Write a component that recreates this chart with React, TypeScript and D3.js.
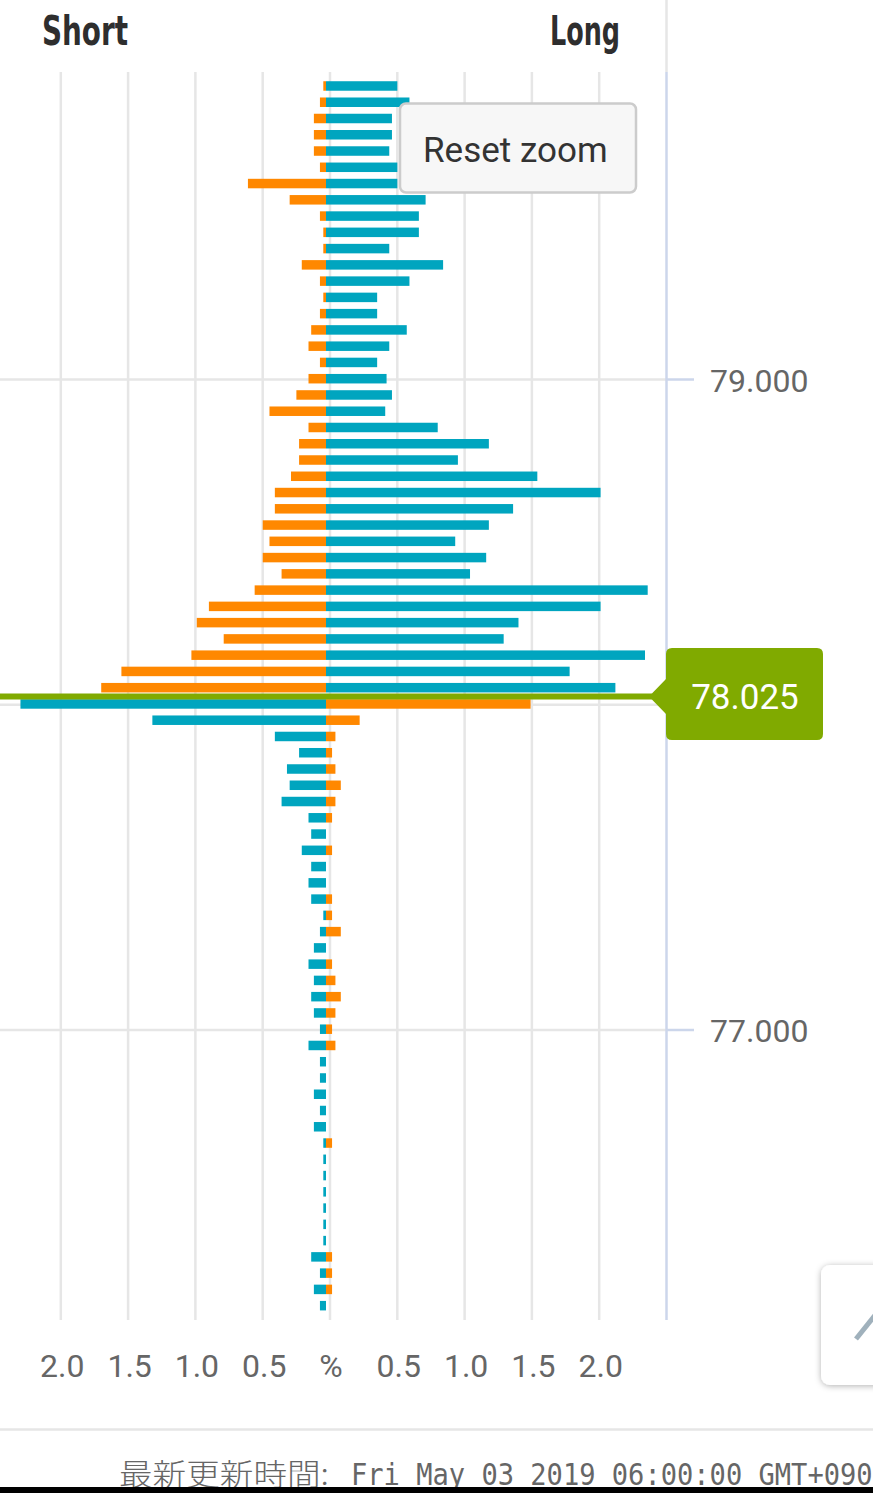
import React, { useEffect, useRef } from 'react';
import * as d3 from 'd3';

// price rows (yen), top to bottom
const prices = [
  79.90, 79.85, 79.80, 79.75, 79.70, 79.65, 79.60, 79.55, 79.50, 79.45,
  79.40, 79.35, 79.30, 79.25, 79.20, 79.15, 79.10, 79.05, 79.00, 78.95,
  78.90, 78.85, 78.80, 78.75, 78.70, 78.65, 78.60, 78.55, 78.50, 78.45,
  78.40, 78.35, 78.30, 78.25, 78.20, 78.15, 78.10, 78.05, 78.00, 77.95,
  77.90, 77.85, 77.80, 77.75, 77.70, 77.65, 77.60, 77.55, 77.50, 77.45,
  77.40, 77.35, 77.30, 77.25, 77.20, 77.15, 77.10, 77.05, 77.00, 76.95,
  76.90, 76.85, 76.80, 76.75, 76.70, 76.65, 76.60, 76.55, 76.50, 76.45,
  76.40, 76.35, 76.30, 76.25, 76.20, 76.15,
];

// % drawn on the left ("Short") side
const leftValues = [
  0.02, 0.045, 0.09, 0.09, 0.09, 0.045, 0.58, 0.27, 0.045, 0.02,
  0.02, 0.18, 0.045, 0.02, 0.045, 0.11, 0.13, 0.045, 0.13, 0.22,
  0.42, 0.13, 0.20, 0.20, 0.26, 0.38, 0.38, 0.47, 0.42, 0.47,
  0.33, 0.53, 0.87, 0.96, 0.76, 1.00, 1.52, 1.67, 2.27, 1.29,
  0.38, 0.20, 0.29, 0.27, 0.33, 0.13, 0.11, 0.18, 0.11, 0.13,
  0.11, 0.02, 0.045, 0.09, 0.13, 0.09, 0.11, 0.09, 0.045, 0.13,
  0.045, 0.045, 0.09, 0.045, 0.09, 0.02, 0.02, 0.02, 0.02, 0.02,
  0.02, 0.02, 0.11, 0.045, 0.09, 0.045,
];

// % drawn on the right ("Long") side
const rightValues = [
  0.53, 0.62, 0.49, 0.49, 0.47, 0.53, 0.53, 0.74, 0.69, 0.69,
  0.47, 0.87, 0.62, 0.38, 0.38, 0.60, 0.47, 0.38, 0.45, 0.49,
  0.44, 0.83, 1.21, 0.98, 1.57, 2.04, 1.39, 1.21, 0.96, 1.19,
  1.07, 2.39, 2.04, 1.43, 1.32, 2.37, 1.81, 2.15, 1.52, 0.25,
  0.07, 0.045, 0.07, 0.11, 0.07, 0.045, 0, 0.045, 0, 0,
  0.045, 0.045, 0.11, 0, 0.045, 0.07, 0.11, 0.07, 0.045, 0.07,
  0, 0, 0, 0, 0, 0.045, 0, 0, 0, 0,
  0, 0, 0.045, 0.045, 0.045, 0,
];

const currentPrice = 78.025;
const xTicks = [-2, -1.5, -1, -0.5, 0, 0.5, 1, 1.5, 2];
const xTickLabels = ['2.0', '1.5', '1.0', '0.5', '%', '0.5', '1.0', '1.5', '2.0'];
const yTicks = [79, 78, 77];
const footerLabel = '最新更新時間:';
const footerDate = 'Fri May 03 2019 06:00:00 GMT+0900';

const ORANGE = '#ff8800';
const TEAL = '#00a5bf';
const GREEN = '#80aa00';

const App: React.FC = () => {
  const svgRef = useRef<SVGSVGElement>(null);

  useEffect(() => {
    if (!svgRef.current) return;
    const width = 873;
    const height = 1493;

    const svg = d3.select(svgRef.current);
    svg.selectAll('*').remove();
    svg.attr('width', width).attr('height', height);

    const plotTop = 72;
    const plotBottom = 1320;
    const x = d3.scaleLinear().domain([-2.5, 2.5]).range([-6.5, 666.5]);
    const y = d3.scaleLinear().domain([79, 77]).range([379.5, 1030]);
    const barZero = x(0) - 4;
    const barH = 9.5;

    const defs = svg.append('defs');
    const shadow = defs.append('filter').attr('id', 'btnShadow')
      .attr('x', '-30%').attr('y', '-30%').attr('width', '160%').attr('height', '160%');
    shadow.append('feDropShadow')
      .attr('dx', 0).attr('dy', 1).attr('stdDeviation', 3)
      .attr('flood-color', '#000').attr('flood-opacity', 0.3);

    // headers
    svg.append('text').attr('x', 42).attr('y', 45).text('Short')
      .attr('font-family', '"DejaVu Sans Condensed", "DejaVu Sans"')
      .attr('font-weight', 'bold').attr('font-size', 40).attr('fill', '#2e2e2e')
      .attr('textLength', 86).attr('lengthAdjust', 'spacingAndGlyphs');
    svg.append('text').attr('x', 550).attr('y', 45).text('Long')
      .attr('font-family', '"DejaVu Sans Condensed", "DejaVu Sans"')
      .attr('font-weight', 'bold').attr('font-size', 40).attr('fill', '#2e2e2e')
      .attr('textLength', 70).attr('lengthAdjust', 'spacingAndGlyphs');

    // top border segment
    svg.append('line').attr('x1', 666.5).attr('x2', 666.5).attr('y1', 0).attr('y2', plotTop)
      .attr('stroke', '#e6e6e6').attr('stroke-width', 2.5);

    // vertical grid
    svg.append('g').selectAll('line').data(xTicks).enter().append('line')
      .attr('x1', d => x(d)).attr('x2', d => x(d))
      .attr('y1', plotTop).attr('y2', plotBottom)
      .attr('stroke', '#e6e6e6').attr('stroke-width', 2.5);

    // horizontal grid
    svg.append('g').selectAll('line').data(yTicks).enter().append('line')
      .attr('x1', 0).attr('x2', 666.5)
      .attr('y1', d => y(d)).attr('y2', d => y(d))
      .attr('stroke', '#e6e6e6').attr('stroke-width', 2.5);

    // right axis + ticks
    svg.append('line').attr('x1', 666.5).attr('x2', 666.5).attr('y1', plotTop).attr('y2', plotBottom)
      .attr('stroke', '#ccd6eb').attr('stroke-width', 2.5);
    svg.append('g').selectAll('line').data(yTicks).enter().append('line')
      .attr('x1', 666.5).attr('x2', 694)
      .attr('y1', d => y(d)).attr('y2', d => y(d))
      .attr('stroke', '#ccd6eb').attr('stroke-width', 2.5);
    svg.append('g').selectAll('text').data(yTicks.filter(d => d !== 78)).enter().append('text')
      .attr('x', 710).attr('y', d => y(d) + 12)
      .text(d => d3.format('.3f')(d))
      .attr('font-family', 'Roboto, sans-serif').attr('font-size', 32).attr('fill', '#666666');

    // bars
    const rows = prices.map((p, i) => ({ p, l: leftValues[i], r: rightValues[i], above: p > currentPrice }));
    const unit = x(1) - x(0);
    const bars = svg.append('g');
    bars.selectAll('rect.left').data(rows.filter(d => d.l > 0)).enter().append('rect')
      .attr('class', 'left')
      .attr('x', d => barZero - d.l * unit).attr('width', d => d.l * unit)
      .attr('y', d => y(d.p) - 0.8 - barH / 2).attr('height', barH)
      .attr('fill', d => d.above ? ORANGE : TEAL);
    bars.selectAll('rect.right').data(rows.filter(d => d.r > 0)).enter().append('rect')
      .attr('class', 'right')
      .attr('x', barZero).attr('width', d => d.r * unit)
      .attr('y', d => y(d.p) - 0.8 - barH / 2).attr('height', barH)
      .attr('fill', d => d.above ? TEAL : ORANGE);

    // current price line + label
    const cy = y(currentPrice);
    svg.append('line').attr('x1', 0).attr('x2', 652).attr('y1', cy).attr('y2', cy)
      .attr('stroke', GREEN).attr('stroke-width', 6);
    const bx0 = 666, bx1 = 823, by0 = 648, by1 = 740, r = 6;
    svg.append('path')
      .attr('d', `M${bx0 + r},${by0} H${bx1 - r} Q${bx1},${by0} ${bx1},${by0 + r} V${by1 - r} Q${bx1},${by1} ${bx1 - r},${by1} H${bx0 + r} Q${bx0},${by1} ${bx0},${by1 - r} V${cy + 17.5} L${649},${cy} L${bx0},${cy - 17.5} V${by0 + r} Q${bx0},${by0} ${bx0 + r},${by0} Z`)
      .attr('fill', GREEN);
    svg.append('text').attr('x', (bx0 + bx1) / 2 + 0.5).attr('y', cy + 12.5)
      .attr('text-anchor', 'middle').text(d3.format('.3f')(currentPrice))
      .attr('font-family', 'Roboto, sans-serif').attr('font-size', 35).attr('fill', '#ffffff');

    // reset zoom button
    svg.append('rect').attr('x', 400).attr('y', 103.5).attr('width', 236).attr('height', 89).attr('rx', 6)
      .attr('fill', '#f7f7f7').attr('stroke', '#cccccc').attr('stroke-width', 2.5);
    svg.append('text').attr('x', 423).attr('y', 162).text('Reset zoom')
      .attr('font-family', 'Roboto, sans-serif').attr('font-size', 35).attr('fill', '#333333');

    // x axis labels
    svg.append('g').selectAll('text').data(xTicks).enter().append('text')
      .attr('x', (d, i) => x(d) + (i === 4 ? 1 : 1.5)).attr('y', 1377)
      .attr('text-anchor', 'middle').text((d, i) => xTickLabels[i])
      .attr('font-family', 'Roboto, sans-serif').attr('font-size', 32).attr('fill', '#666666');

    // side button (partly off screen)
    svg.append('rect').attr('x', 821).attr('y', 1265).attr('width', 90).attr('height', 120).attr('rx', 9)
      .attr('fill', '#ffffff').attr('filter', 'url(#btnShadow)');
    svg.append('line').attr('x1', 856).attr('y1', 1339).attr('x2', 880).attr('y2', 1309)
      .attr('stroke', '#a0b1bc').attr('stroke-width', 5);

    // separator + footer
    svg.append('line').attr('x1', 0).attr('x2', width).attr('y1', 1429.5).attr('y2', 1429.5)
      .attr('stroke', '#e6e6e6').attr('stroke-width', 2.5);
    svg.append('text').attr('x', 119).attr('y', 1485).text(footerLabel)
      .attr('font-family', '"Noto Sans CJK JP", sans-serif').attr('font-size', 30).attr('fill', '#666666')
      .attr('font-weight', 300)
      .attr('textLength', 210).attr('lengthAdjust', 'spacingAndGlyphs');
    svg.append('text').attr('x', 351).attr('y', 1485).text(footerDate)
      .attr('font-family', '"DejaVu Sans Mono", monospace').attr('font-size', 30).attr('fill', '#666666')
      .attr('textLength', footerDate.length * 16.3).attr('lengthAdjust', 'spacingAndGlyphs');
    svg.append('rect').attr('x', 0).attr('y', 1487).attr('width', width).attr('height', 6).attr('fill', '#000000');
  }, []);

  return (
    <div style={{ position: 'absolute', top: 0, left: 0, width: 873, height: 1493, overflow: 'hidden', background: '#fff' }}>
      <svg ref={svgRef} style={{ display: 'block' }} />
    </div>
  );
};

export default App;
